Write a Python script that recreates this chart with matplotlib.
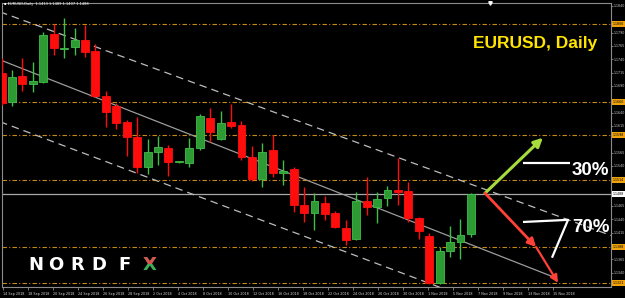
import matplotlib
matplotlib.use("Agg")
import matplotlib.pyplot as plt
from matplotlib import font_manager
from matplotlib.patches import Rectangle
from matplotlib.transforms import blended_transform_factory

W, H, DPI = 625, 298, 100

# ---------------- data ----------------
opens = [1.1714, 1.1660, 1.1709, 1.1694, 1.1698, 1.1788, 1.1759, 1.1763, 1.1776, 1.1756,
         1.1671, 1.1653, 1.1623, 1.1594, 1.1538, 1.1566, 1.1574, 1.1548, 1.1546, 1.1574,
         1.1630, 1.1591, 1.1623, 1.1617, 1.1557, 1.1516, 1.1570, 1.1527, 1.1534, 1.1467,
         1.1452, 1.1471, 1.1452, 1.1424, 1.1403, 1.1474, 1.1463, 1.1480, 1.1495, 1.1493,
         1.1443, 1.1409, 1.1321, 1.1381, 1.1398, 1.1413]
highs = [1.1743, 1.1720, 1.1743, 1.1735, 1.1791, 1.1806, 1.1818, 1.1799, 1.1804, 1.1769,
         1.1681, 1.1658, 1.1626, 1.1632, 1.1591, 1.1596, 1.1579, 1.1550, 1.1593, 1.1638,
         1.1649, 1.1643, 1.1656, 1.1624, 1.1578, 1.1583, 1.1598, 1.1551, 1.1538, 1.1501,
         1.1489, 1.1484, 1.1456, 1.1439, 1.1491, 1.1519, 1.1491, 1.1503, 1.1555, 1.1510,
         1.1444, 1.1414, 1.1388, 1.1428, 1.1441, 1.1489]
lows = [1.1654, 1.1653, 1.1681, 1.1679, 1.1696, 1.1748, 1.1743, 1.1748, 1.1744, 1.1669,
        1.1613, 1.1609, 1.1559, 1.1527, 1.1525, 1.1542, 1.1521, 1.1546, 1.1538, 1.1570,
        1.1585, 1.1589, 1.1611, 1.1551, 1.1512, 1.1501, 1.1519, 1.1504, 1.1454, 1.1435,
        1.1420, 1.1439, 1.1424, 1.1392, 1.1401, 1.1448, 1.1433, 1.1465, 1.1467, 1.1435,
        1.1403, 1.1319, 1.1319, 1.1370, 1.1366, 1.1407]
closes = [1.1658, 1.1707, 1.1694, 1.1699, 1.1786, 1.1761, 1.1761, 1.1776, 1.1754, 1.1671,
          1.1641, 1.1621, 1.1594, 1.1538, 1.1566, 1.1576, 1.1548, 1.1548, 1.1574, 1.1634,
          1.1604, 1.1621, 1.1615, 1.1557, 1.1516, 1.1566, 1.1527, 1.1531, 1.1467, 1.1452,
          1.1474, 1.1450, 1.1426, 1.1401, 1.1474, 1.1463, 1.1478, 1.1495, 1.1491, 1.1443,
          1.1418, 1.1321, 1.1381, 1.1398, 1.1411, 1.1488]

levels = [1.1806, 1.1660, 1.1598, 1.1514, 1.1388, 1.1321]
current_price = 1.1488

price_ticks = [1.1840, 1.1815, 1.1790, 1.1765, 1.1740, 1.1715, 1.1690, 1.1665, 1.1640,
               1.1615, 1.1590, 1.1565, 1.1540, 1.1515, 1.1490, 1.1465, 1.1440, 1.1415,
               1.1390, 1.1365, 1.1340, 1.1315]

date_labels = ['14 Sep 2018', '18 Sep 2018', '20 Sep 2018', '24 Sep 2018', '26 Sep 2018',
               '28 Sep 2018', '2 Oct 2018', '4 Oct 2018', '8 Oct 2018', '10 Oct 2018',
               '12 Oct 2018', '16 Oct 2018', '18 Oct 2018', '22 Oct 2018', '24 Oct 2018',
               '26 Oct 2018', '30 Oct 2018', '1 Nov 2018', '5 Nov 2018', '7 Nov 2018',
               '9 Nov 2018', '13 Nov 2018', '15 Nov 2018']

# trend channel anchor points (bar index, price)
channel_upper = ([-0.15, 58.53], [1.1829, 1.1409])
channel_mid = ([-0.15, 52.77], [1.1739, 1.1333])
channel_low = ([-0.15, 58.53], [1.1623, 1.1191])

# forecast arrows (bar index, price)
arrow_start = (46.35, 1.1489)
arrow_up_end = (51.9, 1.1593)
arrow_down_mid = (51.25, 1.1388)
arrow_down_end = (53.35, 1.1321)

bracket_30 = ([49.99, 54.5], [1.1546, 1.1546])
bracket_70 = ([49.99, 54.31, 52.77], [1.1435, 1.1439, 1.1368])

# ---------------- figure ----------------
names = {f.name for f in font_manager.fontManager.ttflist}
narrow = 'Liberation Sans Narrow' in names

fig = plt.figure(figsize=(W / DPI, H / DPI), dpi=DPI, facecolor='black')
ax = fig.add_axes([2 / W, 11 / H, 609 / W, 284 / H])
ax.set_facecolor('black')
ax.set_xlim(0.04, 58.43)
ax.set_ylim(1.13131, 1.18456)

for s in ax.spines.values():
    s.set_color('#8c8c8c')
    s.set_linewidth(0.8)

# horizontal levels
for lv in levels:
    ax.axhline(lv, color='#C88A10', lw=0.8, ls=(0, (4, 2, 1, 2)), zorder=1)
ax.axhline(current_price, color='#A8A8A8', lw=0.9, zorder=1)

# channel
ax.plot(*channel_upper, color='#BDBDBD', lw=0.9, ls=(0, (6, 4)), zorder=2)
ax.plot(*channel_low, color='#BDBDBD', lw=0.9, ls=(0, (6, 4)), zorder=2)
ax.plot(*channel_mid, color='#9C9C9C', lw=0.9, zorder=2)

# candles
up_face, up_edge = '#2E9A34', '#3FBF48'
dn_face = '#FF0D0D'
for i, (o, h, l, c) in enumerate(zip(opens, highs, lows, closes)):
    up = c >= o
    col = up_edge if up else dn_face
    ax.vlines(i, l, h, color=col, lw=1.0, zorder=3)
    bottom = min(o, c)
    height = max(abs(c - o), 0.00012)
    ax.bar(i, height, bottom=bottom, width=0.76,
           color=up_face if up else dn_face,
           edgecolor=up_edge if up else dn_face, linewidth=0.6, zorder=4)

# arrows
ax.annotate('', xy=arrow_up_end, xytext=arrow_start,
            arrowprops=dict(arrowstyle='-|>', color='#A6DC3C', lw=2.2,
                            mutation_scale=13, shrinkA=0, shrinkB=0), zorder=6)
ax.annotate('', xy=arrow_down_mid, xytext=arrow_start,
            arrowprops=dict(arrowstyle='-|>', color='#FF4136', lw=2.0,
                            mutation_scale=12, shrinkA=0, shrinkB=0), zorder=6)
ax.annotate('', xy=arrow_down_end, xytext=arrow_down_mid,
            arrowprops=dict(arrowstyle='-|>', color='#FF4136', lw=1.6,
                            mutation_scale=11, shrinkA=0, shrinkB=0), zorder=6)

ax.plot(*bracket_30, color='white', lw=1.6, zorder=6, solid_capstyle='butt')
ax.plot(*bracket_70, color='white', lw=1.6, zorder=6, solid_capstyle='butt')

# x axis (dates)
tick_start, tick_step = 0.14, 2.397
xt = [tick_start + k * tick_step for k in range(len(date_labels))]
ax.set_xticks(xt)
ax.set_xticklabels(date_labels)
for lab in ax.get_xticklabels():
    lab.set_ha('left')
ax.tick_params(axis='x', length=2, width=0.6, color='#8c8c8c', pad=1.5,
               labelsize=2.4, labelcolor='#D8D8D8')

# y axis (prices) on the right
ax.yaxis.tick_right()
shown = [p for p in price_ticks
         if all(abs(p - lv) > 0.0010 for lv in levels + [current_price])]
ax.set_yticks(shown)
ax.set_yticklabels([f'{p:.4f}' for p in shown])
ax.tick_params(axis='y', length=1.2, width=0.6, color='#8c8c8c', pad=0.6,
               labelsize=2.3, labelcolor='#D0D0D0')

tr = blended_transform_factory(ax.transAxes, ax.transData)
for lv in levels:
    ax.text(1.0035, lv, f'{lv:.4f}', transform=tr, fontsize=2.3, color='black',
            va='center', ha='left', clip_on=False, zorder=8,
            bbox=dict(boxstyle='square,pad=0.25', fc='#F0A30A', ec='none'))
ax.text(1.0035, current_price, f'{current_price:.4f}', transform=tr, fontsize=2.3,
        color='black', va='center', ha='left', clip_on=False, zorder=8,
        bbox=dict(boxstyle='square,pad=0.25', fc='white', ec='none'))

# chart shift marker
ax.plot([46.8], [1.0], marker='v', ms=2.5, color='white',
        transform=blended_transform_factory(ax.transData, ax.transAxes),
        clip_on=False, zorder=9)


def P(x, y):
    return x / W, 1 - y / H


# header
fig.text(*P(4, 4.5), '\u25aa EURUSD,Daily  1.1413 1.1489 1.1407 1.1488', fontsize=2.6,
         color='white', va='center', ha='left')

# title
fig.text(*P(473, 48), 'EURUSD, Daily', fontsize=12.5, fontweight='bold',
         family=['Liberation Sans', 'DejaVu Sans'], color='#FFE400', va='baseline', ha='left')

# percentages
pct_family = ['Liberation Sans Narrow', 'Liberation Sans'] if narrow else ['Liberation Sans']
pct_size = 15 if narrow else 13.5
fig.text(*P(572, 175), '30%', fontsize=pct_size, fontweight='bold', family=pct_family,
         color='white', va='baseline', ha='left')
fig.text(*P(572, 232), '70%', fontsize=pct_size, fontweight='bold', family=pct_family,
         color='white', va='baseline', ha='left')

# NORD FX logo
logo_letters = ['N', 'O', 'R', 'D', 'F']
logo_x = [35.5, 56, 77, 98.5, 124]
for ch, x in zip(logo_letters, logo_x):
    fig.text(*P(x, 270), ch, fontsize=13, fontweight='bold', family=['DejaVu Sans'],
             color='white', va='baseline', ha='center')
xg = fig.text(*P(150, 270), 'X', fontsize=13, fontweight='bold', family=['DejaVu Sans'],
              color='#3DAE5B', va='baseline', ha='center')
xr = fig.text(*P(150, 270), 'X', fontsize=13, fontweight='bold', family=['DejaVu Sans'],
              color='#D9534F', va='baseline', ha='center')
clip = Rectangle(P(135, 264), 30 / W, 10 / H, transform=fig.transFigure)
xr.set_clip_path(clip)

fig.savefig('out.png', dpi=DPI, facecolor='black')
